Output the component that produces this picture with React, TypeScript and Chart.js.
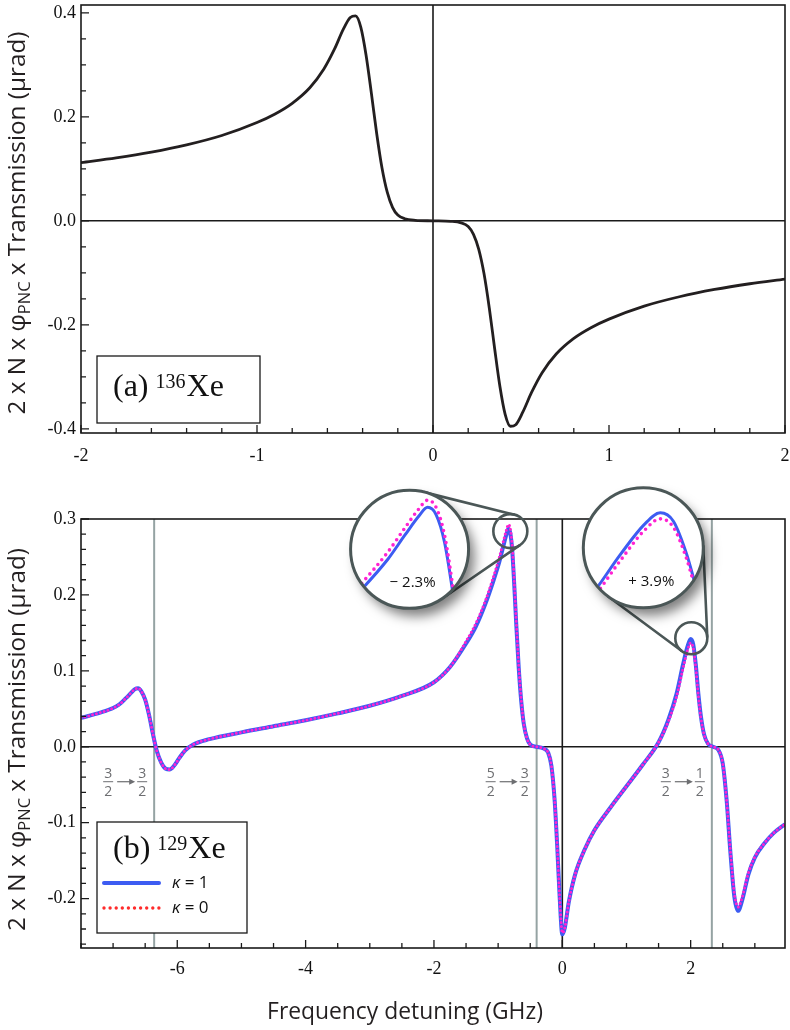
import React, { useEffect, useRef } from 'react';
import { Chart, registerables } from 'chart.js';

Chart.register(...registerables);

// ---------------- Panel (a): 136Xe ----------------
const detuningA = [
  -2.0, -1.8, -1.6, -1.4, -1.2, -1.0, -0.9, -0.8, -0.7, -0.62, -0.56, -0.51, -0.47, -0.44, -0.41,
  -0.38, -0.35, -0.32, -0.29, -0.26, -0.23, -0.2, -0.16, -0.1, 0.0, 0.1, 0.16, 0.2, 0.23, 0.26,
  0.29, 0.32, 0.35, 0.38, 0.41, 0.44, 0.47, 0.51, 0.56, 0.62, 0.7, 0.8, 0.9, 1.0, 1.2, 1.4, 1.6,
  1.8, 2.0,
];
const signalA = [
  0.112, 0.121, 0.132, 0.146, 0.164, 0.189, 0.205, 0.226, 0.256, 0.292, 0.33, 0.368, 0.391, 0.394,
  0.372, 0.318, 0.245, 0.168, 0.102, 0.055, 0.026, 0.011, 0.004, 0.001, 0.0, -0.001, -0.004,
  -0.011, -0.026, -0.055, -0.102, -0.168, -0.245, -0.318, -0.372, -0.395, -0.392, -0.368, -0.33,
  -0.292, -0.256, -0.226, -0.205, -0.189, -0.164, -0.146, -0.132, -0.121, -0.112,
];

// ---------------- Panel (b): 129Xe ----------------
const detuningB = [
  -7.5, -7.2, -7.0, -6.9, -6.8, -6.72, -6.66, -6.61, -6.56, -6.5, -6.44, -6.38, -6.32, -6.25,
  -6.18, -6.12, -6.05, -5.97, -5.88, -5.75, -5.5, -5.0, -4.5, -4.0, -3.5, -3.0, -2.5, -2.0, -1.75,
  -1.5, -1.35, -1.2, -1.08, -0.98, -0.92, -0.87, -0.84, -0.81, -0.78, -0.75, -0.72, -0.68, -0.64,
  -0.6, -0.55, -0.5, -0.4, -0.3, -0.22, -0.17, -0.12, -0.08, -0.04, 0.0, 0.04, 0.1, 0.2, 0.35, 0.5,
  0.75, 1.0, 1.25, 1.5, 1.65, 1.78, 1.88, 1.95, 2.0, 2.04, 2.08, 2.12, 2.16, 2.21, 2.27, 2.35,
  2.43, 2.5, 2.56, 2.62, 2.68, 2.74, 2.8, 2.9, 3.0, 3.15, 3.3, 3.47,
];
const kappa1B = [
  0.038, 0.045, 0.051, 0.056, 0.064, 0.071, 0.076, 0.077, 0.073, 0.062, 0.042, 0.017, -0.005,
  -0.021, -0.029, -0.03, -0.025, -0.015, -0.005, 0.003, 0.01, 0.019, 0.027, 0.035, 0.044, 0.054,
  0.067, 0.085, 0.105, 0.136, 0.158, 0.188, 0.217, 0.244, 0.264, 0.28, 0.287, 0.281, 0.258, 0.215,
  0.165, 0.105, 0.06, 0.03, 0.011, 0.003, 0.0, -0.002, -0.008, -0.025, -0.07, -0.13, -0.2, -0.247,
  -0.238, -0.205, -0.168, -0.135, -0.11, -0.08, -0.052, -0.024, 0.006, 0.035, 0.07, 0.108, 0.132,
  0.142, 0.135, 0.108, 0.07, 0.04, 0.016, 0.004, 0.0, -0.004, -0.022, -0.07, -0.14, -0.197, -0.216,
  -0.203, -0.168, -0.146, -0.127, -0.113, -0.102,
];
const kappa0B = [
  0.038, 0.045, 0.051, 0.056, 0.064, 0.071, 0.076, 0.077, 0.073, 0.062, 0.042, 0.017, -0.005,
  -0.021, -0.029, -0.03, -0.025, -0.015, -0.005, 0.003, 0.01, 0.019, 0.027, 0.035, 0.044, 0.054,
  0.067, 0.085, 0.105, 0.139, 0.162, 0.192, 0.222, 0.25, 0.27, 0.286, 0.293, 0.287, 0.264, 0.22,
  0.169, 0.108, 0.062, 0.03, 0.011, 0.003, 0.0, -0.002, -0.008, -0.025, -0.07, -0.13, -0.2, -0.245,
  -0.238, -0.205, -0.168, -0.135, -0.11, -0.08, -0.052, -0.024, 0.006, 0.033, 0.066, 0.103, 0.127,
  0.137, 0.13, 0.104, 0.067, 0.038, 0.016, 0.004, 0.0, -0.004, -0.022, -0.07, -0.138, -0.193,
  -0.211, -0.199, -0.166, -0.145, -0.127, -0.113, -0.102,
];

// hyperfine transitions F -> F'
const transitionFreq = [-6.36, -0.4, 2.33];
const transitionFrom = ['3/2', '5/2', '3/2'];
const transitionTo = ['3/2', '3/2', '1/2'];
const transitionLabelY = -0.046;

// tick labels
const xLabelAtA = [-2, -1, 0, 1, 2];
const xLabelTextA = ['-2', '-1', '0', '1', '2'];
const yLabelAtA = [-0.4, -0.2, 0, 0.2, 0.4];
const yLabelTextA = ['-0.4', '-0.2', '0.0', '0.2', '0.4'];
const xLabelAtB = [-6, -4, -2, 0, 2];
const xLabelTextB = ['-6', '-4', '-2', '0', '2'];
const yLabelAtB = [-0.2, -0.1, 0, 0.1, 0.2, 0.3];
const yLabelTextB = ['-0.2', '-0.1', '0.0', '0.1', '0.2', '0.3'];

// magnifier annotations (data anchors)
const insetPercent = ['\u2212 2.3%', '+ 3.9%'];
const insetPeakX = [-0.84, 2.0];
const insetPeakY = [0.287, 0.142];
const insetSmallX = [-0.81, 2.01];
const insetSmallY = [0.284, 0.143];
const insetBigX = [-2.38, 1.262];
const insetBigY = [0.26, 0.262];

const SERIF = '"Liberation Serif", "Times New Roman", serif';
const SANS = '"Open Sans", "Noto Sans", sans-serif';
const BLUE = '#3d5cf2';
const MAGENTA = '#ff22d2';
const RED = '#ff2b2b';
const RING = '#4b5757';

const near = (a: number, b: number) => Math.abs(a - b) < 1e-6;
const labelFor = (at: number[], text: string[]) => (v: any) => {
  const n = Number(v);
  const i = at.findIndex((p) => near(p, n));
  return i >= 0 ? text[i] : '';
};
const isMajor = (at: number[], v: number) => at.some((p) => near(p, v));

function drawFrameAndTicks(chart: any, xAt: number[], yAt: number[]) {
  const { ctx, chartArea: a, scales } = chart;
  const xs = scales.x;
  const ys = scales.y;
  ctx.save();
  ctx.strokeStyle = '#1a1a1a';
  ctx.lineWidth = 1.3;
  ctx.beginPath();
  for (const t of xs.ticks) {
    const p = xs.getPixelForValue(t.value);
    const len = isMajor(xAt, t.value) ? 8 : 5;
    ctx.moveTo(p, a.bottom);
    ctx.lineTo(p, a.bottom - len);
  }
  for (const t of ys.ticks) {
    const p = ys.getPixelForValue(t.value);
    const len = isMajor(yAt, t.value) ? 8 : 5;
    ctx.moveTo(a.left, p);
    ctx.lineTo(a.left + len, p);
  }
  ctx.stroke();
  ctx.lineWidth = 1.6;
  ctx.strokeRect(a.left, a.top, a.right - a.left, a.bottom - a.top);
  ctx.restore();
}

function drawZeroLines(chart: any) {
  const { ctx, chartArea: a, scales } = chart;
  const y0 = scales.y.getPixelForValue(0);
  const x0 = scales.x.getPixelForValue(0);
  ctx.save();
  ctx.strokeStyle = '#1a1a1a';
  ctx.lineWidth = 1.6;
  ctx.beginPath();
  ctx.moveTo(a.left, y0);
  ctx.lineTo(a.right, y0);
  ctx.moveTo(x0, a.top);
  ctx.lineTo(x0, a.bottom);
  ctx.stroke();
  ctx.restore();
}

function drawYTitle(ctx: CanvasRenderingContext2D, bx: number, cy: number, targetLen: number) {
  const p1 = '2 x N x \u03C6';
  const p2 = 'PNC';
  const p3 = ' x Transmission (\u03BCrad)';
  const subRatio = 0.68;
  const measure = (s: number) => {
    ctx.font = `${s}px ${SANS}`;
    let w = ctx.measureText(p1).width + ctx.measureText(p3).width;
    ctx.font = `${s * subRatio}px ${SANS}`;
    w += ctx.measureText(p2).width;
    return w;
  };
  const size = (20 * targetLen) / measure(20);
  const total = measure(size);
  ctx.save();
  ctx.translate(bx, cy);
  ctx.rotate(-Math.PI / 2);
  ctx.fillStyle = '#231f20';
  ctx.textBaseline = 'alphabetic';
  ctx.textAlign = 'left';
  let x = -total / 2;
  ctx.font = `${size}px ${SANS}`;
  ctx.fillText(p1, x, 0);
  x += ctx.measureText(p1).width;
  ctx.font = `${size * subRatio}px ${SANS}`;
  ctx.fillText(p2, x, size * 0.22);
  x += ctx.measureText(p2).width;
  ctx.font = `${size}px ${SANS}`;
  ctx.fillText(p3, x, 0);
  ctx.restore();
}

function drawLabelBox(
  ctx: CanvasRenderingContext2D,
  left: number,
  top: number,
  w: number,
  h: number,
  tag: string,
  mass: string,
  baseline: number,
) {
  ctx.save();
  ctx.fillStyle = '#fff';
  ctx.fillRect(left, top, w, h);
  ctx.strokeStyle = '#1a1a1a';
  ctx.lineWidth = 1.3;
  ctx.strokeRect(left, top, w, h);
  ctx.fillStyle = '#111';
  ctx.textBaseline = 'alphabetic';
  ctx.textAlign = 'left';
  let x = left + 16;
  ctx.font = `32px ${SERIF}`;
  ctx.fillText(tag, x, top + baseline);
  x += ctx.measureText(tag).width + 7;
  ctx.font = `20px ${SERIF}`;
  ctx.fillText(mass, x, top + baseline - 8);
  x += ctx.measureText(mass).width + 1;
  ctx.font = `32px ${SERIF}`;
  ctx.fillText('Xe', x, top + baseline);
  ctx.restore();
}

function drawTransition(ctx: CanvasRenderingContext2D, gx: number, barY: number, from: string, to: string) {
  ctx.save();
  ctx.fillStyle = '#6d6e71';
  ctx.strokeStyle = '#6d6e71';
  ctx.font = `14px ${SANS}`;
  ctx.textAlign = 'center';
  ctx.textBaseline = 'alphabetic';
  const frac = (cx: number, s: string) => {
    const [n, d] = s.split('/');
    ctx.fillText(n, cx, barY - 4);
    ctx.fillText(d, cx, barY + 14);
    ctx.beginPath();
    ctx.lineWidth = 1;
    ctx.moveTo(cx - 5, barY);
    ctx.lineTo(cx + 5, barY);
    ctx.stroke();
  };
  frac(gx - 46, from);
  frac(gx - 12, to);
  ctx.beginPath();
  ctx.lineWidth = 1.2;
  ctx.moveTo(gx - 37, barY);
  ctx.lineTo(gx - 23, barY);
  ctx.stroke();
  ctx.beginPath();
  ctx.moveTo(gx - 19, barY);
  ctx.lineTo(gx - 25, barY - 3);
  ctx.lineTo(gx - 25, barY + 3);
  ctx.closePath();
  ctx.fill();
  ctx.restore();
}

function tracePath(ctx: CanvasRenderingContext2D, pts: any[], T: (x: number, y: number) => number[]) {
  ctx.beginPath();
  let prev: any = null;
  for (const p of pts) {
    const [x, y] = T(p.x, p.y);
    if (!prev) ctx.moveTo(x, y);
    else {
      const [c1x, c1y] = T(prev.cp2x, prev.cp2y);
      const [c2x, c2y] = T(p.cp1x, p.cp1y);
      ctx.bezierCurveTo(c1x, c1y, c2x, c2y, x, y);
    }
    prev = p;
  }
}

const insetGeom = [
  { R: 59, r: 17, offX: 18, offY: -42, kx: 4.4, ky: 1.58, tdx: 3, tdy: 33 },
  { R: 60, r: 16, offX: 17, offY: -35, kx: 5.1, ky: 1.58, tdx: 8, tdy: 34 },
];

function drawInset(chart: any, i: number) {
  const { ctx, scales } = chart;
  const xs = scales.x;
  const ys = scales.y;
  const g = insetGeom[i];
  const bx = xs.getPixelForValue(insetBigX[i]);
  const by = ys.getPixelForValue(insetBigY[i]);
  const sx = xs.getPixelForValue(insetSmallX[i]);
  const sy = ys.getPixelForValue(insetSmallY[i]);
  const ax = xs.getPixelForValue(insetPeakX[i]);
  const ay = ys.getPixelForValue(insetPeakY[i]);
  const tx = bx + g.offX;
  const ty = by + g.offY;
  const T = (px: number, py: number) => [tx + (px - ax) * g.kx, ty + (py - ay) * g.ky];

  ctx.save();
  const dx = sx - bx;
  const dy = sy - by;
  const D = Math.hypot(dx, dy);
  const th = Math.atan2(dy, dx);
  const ph = Math.acos((g.R - g.r) / D);
  ctx.strokeStyle = RING;
  ctx.lineWidth = 2.6;
  ctx.beginPath();
  for (const s of [-1, 1]) {
    const an = th + s * ph;
    ctx.moveTo(bx + g.R * Math.cos(an), by + g.R * Math.sin(an));
    ctx.lineTo(sx + g.r * Math.cos(an), sy + g.r * Math.sin(an));
  }
  ctx.stroke();

  ctx.save();
  ctx.shadowColor = 'rgba(0,0,0,0.5)';
  ctx.shadowBlur = 12;
  ctx.shadowOffsetX = 6;
  ctx.shadowOffsetY = 8;
  ctx.beginPath();
  ctx.arc(bx, by, g.R, 0, Math.PI * 2);
  ctx.fillStyle = '#fff';
  ctx.fill();
  ctx.restore();

  ctx.save();
  ctx.beginPath();
  ctx.arc(bx, by, g.R - 1, 0, Math.PI * 2);
  ctx.clip();
  const blueMeta = chart.getDatasetMeta(1);
  const dotMeta = chart.getDatasetMeta(0);
  ctx.lineJoin = 'round';
  tracePath(ctx, blueMeta.data, T);
  ctx.strokeStyle = BLUE;
  ctx.lineWidth = 3;
  ctx.stroke();
  tracePath(ctx, dotMeta.data, T);
  ctx.setLineDash([0, 6.2]);
  ctx.lineCap = 'round';
  ctx.strokeStyle = MAGENTA;
  ctx.lineWidth = 3.6;
  ctx.stroke();
  ctx.restore();

  ctx.beginPath();
  ctx.arc(bx, by, g.R, 0, Math.PI * 2);
  ctx.strokeStyle = RING;
  ctx.lineWidth = 3;
  ctx.stroke();

  ctx.beginPath();
  ctx.arc(sx, sy, g.r, 0, Math.PI * 2);
  ctx.lineWidth = 2.6;
  ctx.stroke();

  ctx.fillStyle = '#111';
  ctx.font = `15px ${SANS}`;
  ctx.textAlign = 'center';
  ctx.textBaseline = 'middle';
  ctx.fillText(insetPercent[i], bx + g.tdx, by + g.tdy);
  ctx.restore();
}

function scaleX(min: number, max: number, step: number, at: number[], text: string[], h: number, pad: number) {
  return {
    type: 'linear',
    min,
    max,
    grid: { display: false, drawTicks: false },
    border: { display: false },
    ticks: {
      stepSize: step,
      autoSkip: false,
      maxRotation: 0,
      includeBounds: false,
      padding: pad,
      color: '#111',
      font: { family: SERIF, size: 18 },
      callback: labelFor(at, text),
    },
    afterFit: (s: any) => {
      s.height = h;
      s.paddingLeft = 0;
      s.paddingRight = 0;
    },
  };
}

function scaleY(min: number, max: number, step: number, at: number[], text: string[]) {
  return {
    type: 'linear',
    min,
    max,
    grid: { display: false, drawTicks: false },
    border: { display: false },
    ticks: {
      stepSize: step,
      autoSkip: false,
      includeBounds: false,
      padding: 5,
      color: '#111',
      font: { family: SERIF, size: 18 },
      callback: labelFor(at, text),
    },
    afterFit: (s: any) => {
      s.width = 81;
      s.paddingTop = 0;
      s.paddingBottom = 0;
    },
  };
}

export default function App() {
  const refA = useRef<HTMLCanvasElement>(null);
  const refB = useRef<HTMLCanvasElement>(null);

  useEffect(() => {
    const pluginA = {
      id: 'panelA',
      beforeDatasetsDraw(chart: any) {
        drawZeroLines(chart);
      },
      afterDatasetsDraw(chart: any) {
        const { ctx, chartArea: a } = chart;
        drawFrameAndTicks(chart, xLabelAtA, yLabelAtA);
        drawLabelBox(ctx, a.left + 16, a.bottom - 77, 163, 67, '(a)', '136', 40);
        drawYTitle(ctx, 25, (a.top + a.bottom) / 2 + 4, 383);
      },
    };

    const pluginB = {
      id: 'panelB',
      beforeDatasetsDraw(chart: any) {
        const { ctx, chartArea: a, scales } = chart;
        ctx.save();
        ctx.strokeStyle = '#95a3a3';
        ctx.lineWidth = 2;
        ctx.beginPath();
        for (const f of transitionFreq) {
          const p = scales.x.getPixelForValue(f);
          ctx.moveTo(p, a.top);
          ctx.lineTo(p, a.bottom);
        }
        ctx.stroke();
        ctx.restore();
        drawZeroLines(chart);
      },
      afterDatasetsDraw(chart: any) {
        const { ctx, chartArea: a, scales } = chart;
        drawFrameAndTicks(chart, xLabelAtB, yLabelAtB);
        const barY = scales.y.getPixelForValue(transitionLabelY);
        transitionFreq.forEach((f, i) => {
          drawTransition(ctx, scales.x.getPixelForValue(f), barY, transitionFrom[i], transitionTo[i]);
        });
        const bl = a.left + 16;
        const bt = a.bottom - 126;
        drawLabelBox(ctx, bl, bt, 150, 111, '(b)', '129', 36);
        ctx.save();
        ctx.lineCap = 'round';
        ctx.strokeStyle = BLUE;
        ctx.lineWidth = 4;
        ctx.beginPath();
        ctx.moveTo(bl + 7, bt + 61);
        ctx.lineTo(bl + 62, bt + 61);
        ctx.stroke();
        ctx.strokeStyle = RED;
        ctx.lineWidth = 3.4;
        ctx.setLineDash([0, 6.1]);
        ctx.beginPath();
        ctx.moveTo(bl + 7, bt + 86);
        ctx.lineTo(bl + 63, bt + 86);
        ctx.stroke();
        ctx.setLineDash([]);
        ctx.fillStyle = '#111';
        ctx.textBaseline = 'middle';
        ctx.textAlign = 'left';
        const kap = (y: number, v: string) => {
          ctx.font = `italic 17px ${SANS}`;
          ctx.fillText('\u03BA', bl + 75, y);
          const w = ctx.measureText('\u03BA').width;
          ctx.font = `17px ${SANS}`;
          ctx.fillText(' = ' + v, bl + 75 + w, y);
        };
        kap(bt + 61, '1');
        kap(bt + 86, '0');
        ctx.restore();
        drawInset(chart, 0);
        drawInset(chart, 1);
        drawYTitle(ctx, 25, (a.top + a.bottom) / 2 + 6, 383);
        ctx.save();
        const title = 'Frequency detuning (GHz)';
        ctx.font = `20px ${SANS}`;
        const fs = (20 * 276) / ctx.measureText(title).width;
        ctx.font = `${fs}px ${SANS}`;
        ctx.fillStyle = '#231f20';
        ctx.textAlign = 'center';
        ctx.textBaseline = 'alphabetic';
        ctx.fillText(title, 405, a.bottom + 71);
        ctx.restore();
      },
    };

    const chartA = new Chart(refA.current as HTMLCanvasElement, {
      type: 'line',
      data: {
        datasets: [
          {
            data: detuningA.map((x, i) => ({ x, y: signalA[i] })),
            borderColor: '#231f20',
            borderWidth: 2.8,
            pointRadius: 0,
            cubicInterpolationMode: 'monotone',
            fill: false,
          },
        ],
      },
      options: {
        responsive: false,
        animation: false,
        events: [],
        layout: { padding: { top: 5, right: 5, left: 0, bottom: 0 } },
        plugins: { legend: { display: false }, tooltip: { enabled: false } },
        scales: {
          x: scaleX(-2, 2, 0.2, xLabelAtA, xLabelTextA, 37, 12),
          y: scaleY(-0.408, 0.415, 0.05, yLabelAtA, yLabelTextA),
        },
      },
      plugins: [pluginA],
    } as any);

    const chartB = new Chart(refB.current as HTMLCanvasElement, {
      type: 'line',
      data: {
        datasets: [
          {
            label: '\u03BA = 0',
            data: detuningB.map((x, i) => ({ x, y: kappa0B[i] })),
            borderColor: MAGENTA,
            borderWidth: 3,
            borderDash: [0, 4],
            borderCapStyle: 'round',
            pointRadius: 0,
            cubicInterpolationMode: 'monotone',
            fill: false,
            order: 0,
          },
          {
            label: '\u03BA = 1',
            data: detuningB.map((x, i) => ({ x, y: kappa1B[i] })),
            borderColor: BLUE,
            borderWidth: 4,
            pointRadius: 0,
            cubicInterpolationMode: 'monotone',
            fill: false,
            order: 1,
          },
        ],
      },
      options: {
        responsive: false,
        animation: false,
        events: [],
        layout: { padding: { top: 49, right: 5, left: 0, bottom: 0 } },
        plugins: { legend: { display: false }, tooltip: { enabled: false } },
        scales: {
          x: scaleX(-7.5, 3.47, 0.5, xLabelAtB, xLabelTextB, 82, 10),
          y: scaleY(-0.265, 0.3, 0.02, yLabelAtB, yLabelTextB),
        },
      },
      plugins: [pluginB],
    } as any);

    return () => {
      chartA.destroy();
      chartB.destroy();
    };
  }, []);

  return (
    <div style={{ position: 'absolute', left: 0, top: 0, width: 790, height: 1030, background: '#fff' }}>
      <canvas
        ref={refA}
        width={790}
        height={470}
        style={{ position: 'absolute', left: 0, top: 0, width: 790, height: 470 }}
      />
      <canvas
        ref={refB}
        width={790}
        height={560}
        style={{ position: 'absolute', left: 0, top: 470, width: 790, height: 560 }}
      />
    </div>
  );
}
